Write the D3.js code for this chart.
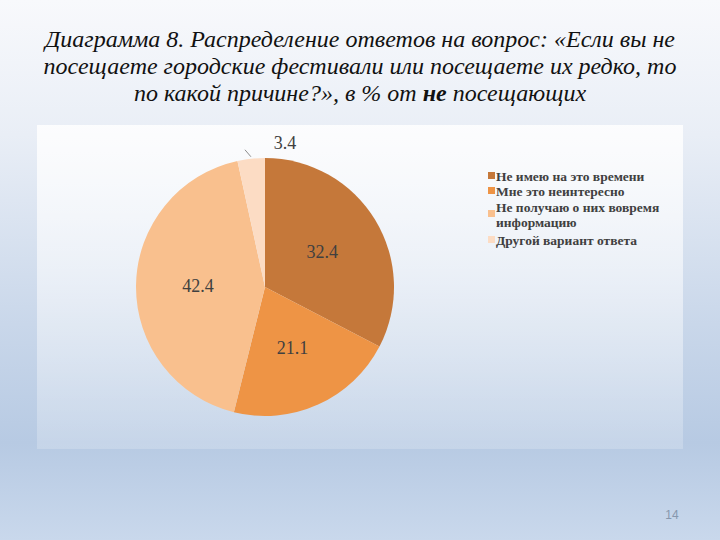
<!DOCTYPE html>
<html><head><meta charset="utf-8">
<script src="https://cdn.jsdelivr.net/npm/d3@7"></script>
<style>html,body{margin:0;padding:0;}svg{display:block;}</style>
</head><body>
<svg id="c" width="720" height="540"></svg>
<script>
const categories = ["Не имею на это времени","Мне это неинтересно","Не получаю о них вовремя информацию","Другой вариант ответа"];
const legendLines = [["Не имею на это времени"],["Мне это неинтересно"],["Не получаю о них вовремя","информацию"],["Другой вариант ответа"]];
const values = [32.4, 21.1, 42.4, 3.4];
const colors = ["#C5783A","#EE9445","#F9C08E","#FCDCC4"];
const titleLines = ["Диаграмма 8. Распределение ответов на вопрос: «Если вы не","посещаете городские фестивали или посещаете их редко, то"];

const svg = d3.select("#c");
const defs = svg.append("defs");
const bg = defs.append("linearGradient").attr("id","bg").attr("x1",0).attr("y1",0).attr("x2",0).attr("y2",1);
bg.append("stop").attr("offset","0%").attr("stop-color","#f8f9fc");
bg.append("stop").attr("offset","25%").attr("stop-color","#e9eef6");
bg.append("stop").attr("offset","60%").attr("stop-color","#c9d7ea");
bg.append("stop").attr("offset","82%").attr("stop-color","#b7cae3");
bg.append("stop").attr("offset","100%").attr("stop-color","#c9d8ec");
svg.append("rect").attr("width",720).attr("height",540).attr("fill","url(#bg)");

const box = defs.append("linearGradient").attr("id","box").attr("x1",0).attr("y1",0).attr("x2",0).attr("y2",1);
box.append("stop").attr("offset","0%").attr("stop-color","#ffffff").attr("stop-opacity",0.85);
box.append("stop").attr("offset","100%").attr("stop-color","#ffffff").attr("stop-opacity",0.2);
svg.append("rect").attr("x",37).attr("y",125).attr("width",646).attr("height",324).attr("fill","url(#box)");

// Title
const tfont = "'Liberation Serif','Times New Roman',serif";
const title = svg.append("g").style("font-family",tfont).attr("font-style","italic").attr("font-size",24).attr("fill","#111").attr("text-anchor","middle");
title.append("text").attr("x",360).attr("y",47).text(titleLines[0]);
title.append("text").attr("x",360).attr("y",74).text(titleLines[1]);
const t3 = title.append("text").attr("x",360).attr("y",101);
t3.append("tspan").text("по какой причине?», в % от ");
t3.append("tspan").attr("font-weight","bold").text("не");
t3.append("tspan").text(" посещающих");

// Pie
const cx = 265, cy = 287, r = 129;
const pie = d3.pie().sort(null).value(d => d)(values);
const arc = d3.arc().innerRadius(0).outerRadius(r);
const g = svg.append("g").attr("transform",`translate(${cx},${cy})`);
g.selectAll("path").data(pie).join("path").attr("d",arc).attr("fill",(d,i)=>colors[i]);

const labelArc = d3.arc().innerRadius(r*0.52).outerRadius(r*0.52);
g.selectAll("text.lbl").data(pie).join("text").attr("class","lbl")
  .attr("transform",(d,i)=>{
    if(i===3){ return `translate(20,-144)`; }
    const c = labelArc.centroid(d); return `translate(${c[0]},${c[1]})`;
  })
  .attr("text-anchor","middle").attr("dy","0.35em")
  .style("font-family",tfont).attr("font-size",18).attr("fill","#404040")
  .text(d=>d.data);
// leader line for small slice
const sm = pie[3];
const mid = (sm.startAngle+sm.endAngle)/2;
g.append("line")
  .attr("x1",Math.sin(mid)*(r+2)).attr("y1",-Math.cos(mid)*(r+2))
  .attr("x2",Math.sin(mid)*(r+2)-6).attr("y2",-Math.cos(mid)*(r+2)-7)
  .attr("stroke","#8c8c8c").attr("stroke-width",1);

// Legend
const leg = svg.append("g").style("font-family",tfont).attr("font-weight","bold").attr("font-size",13.5).attr("fill","#404040");
const rowY = [176,191,207,240];
legendLines.forEach((lines,i)=>{
  leg.append("rect").attr("x",488).attr("y",rowY[i]-4 + (lines.length>1?7:0)).attr("width",7).attr("height",7).attr("fill",colors[i]);
  lines.forEach((ln,j)=>{
    leg.append("text").attr("x",496).attr("y",rowY[i]+j*15).attr("dy","0.35em").text(ln);
  });
});

// Page number
svg.append("text").attr("x",672).attr("y",519).attr("text-anchor","middle").style("font-family","'Liberation Sans',sans-serif").attr("font-size",12).attr("fill","#8797ad").text("14");
</script>
</body></html>
